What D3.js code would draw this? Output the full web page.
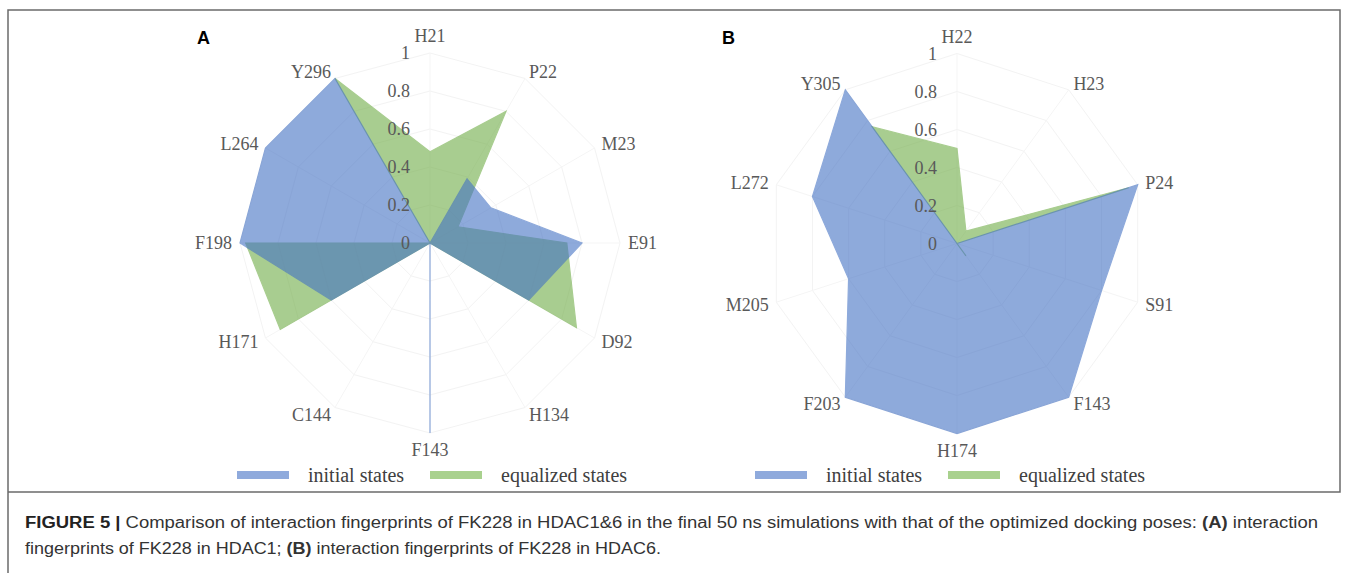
<!DOCTYPE html>
<html>
<head>
<meta charset="utf-8">
<script src="https://cdn.jsdelivr.net/npm/d3@7"></script>
<style>
  body { margin: 0; background: #fff; }
  svg { display: block; }
</style>
</head>
<body>
<div id="drawing_region"></div>
<script>
// panel A (HDAC1)
const axesA = ['H21', 'P22', 'M23', 'E91', 'D92', 'H134', 'F143', 'C144', 'H171', 'F198', 'L264', 'Y296'];
const initialA = [0, 0.39, 0.37, 0.8, 0.6, 0, 1, 0, 0.6, 1, 1, 1];
const equalizedA = [0.48, 0.8, 0.17, 0.72, 0.89, 0, 0, 0, 0.91, 0.97, 0, 1];

// panel B (HDAC6)
const axesB = ['H22', 'H23', 'P24', 'S91', 'F143', 'H174', 'F203', 'M205', 'L272', 'Y305'];
const initialB = [0, 0, 1, 0.8, 1, 1, 1, 0.6, 0.8, 1];
const equalizedB = [0.5, 0.08, 0.95, 0, 0.08, 0, 0, 0, 0, 0.76];

const ticks = [0, 0.2, 0.4, 0.6, 0.8, 1];
const tickLabels = ['0', '0.2', '0.4', '0.6', '0.8', '1'];
const seriesNames = ['initial states', 'equalized states'];

const svg = d3.select('#drawing_region').append('svg')
    .attr('width', 1348)
    .attr('height', 573);

class RadarChart {
    constructor(config, data) {
        this.config = {
            parent: config.parent,
            cx: config.cx,
            cy: config.cy,
            radius: config.radius || 190,
            letter: config.letter,
            letterX: config.letterX,
            legendX: config.legendX,
            legendY: config.legendY || 475,
        };
        this.data = data;
        this.init();
    }

    init() {
        let self = this;
        self.chart = self.config.parent.append('g')
            .attr('transform', `translate(${self.config.cx}, ${self.config.cy})`);

        self.rscale = d3.scaleLinear()
            .domain([0, 1])
            .range([0, self.config.radius]);

        const n = self.data.axes.length;
        self.angle = i => i * 2 * Math.PI / n;

        self.radial = d3.lineRadial()
            .angle((d, i) => self.angle(i))
            .radius(d => self.rscale(d))
            .curve(d3.curveLinearClosed);
    }

    render() {
        let self = this;
        const axes = self.data.axes;
        const R = self.config.radius;

        // grid rings and spokes (very faint, like the original)
        self.chart.selectAll('.ring')
            .data(ticks.slice(1))
            .enter()
            .append('path')
            .attr('d', t => self.radial(axes.map(() => t)))
            .attr('fill', 'none')
            .attr('stroke', '#f3f3f3')
            .attr('stroke-width', 1);

        self.chart.selectAll('.spoke')
            .data(axes)
            .enter()
            .append('line')
            .attr('x1', 0).attr('y1', 0)
            .attr('x2', (d, i) => R * Math.sin(self.angle(i)))
            .attr('y2', (d, i) => -R * Math.cos(self.angle(i)))
            .attr('stroke', '#f5f5f5')
            .attr('stroke-width', 1);

        // series: equalized underneath, initial on top
        const series = [
            { values: self.data.equalized, color: '#70AD47' },
            { values: self.data.initial, color: '#4472C4' },
        ];
        series.forEach(s => {
            self.chart.append('g')
                .attr('opacity', 0.6)
                .append('path')
                .attr('d', self.radial(s.values))
                .attr('fill', s.color)
                .attr('stroke', s.color)
                .attr('stroke-width', 1.2)
                .attr('stroke-linejoin', 'miter');
        });

        // tick labels
        self.chart.selectAll('.tick')
            .data(ticks)
            .enter()
            .append('text')
            .attr('x', -20)
            .attr('y', d => -self.rscale(d))
            .attr('dy', '0.35em')
            .attr('text-anchor', 'end')
            .style('font-family', '"Liberation Serif", serif')
            .style('font-size', '18px')
            .attr('fill', '#595959')
            .text((d, i) => tickLabels[i]);

        // axis labels
        self.chart.selectAll('.axislabel')
            .data(axes)
            .enter()
            .append('text')
            .each(function(d, i) {
                const a = self.angle(i);
                const s = Math.sin(a), c = Math.cos(a);
                let x = (R + 8) * s, y = -(R + 8) * c;
                let anchor = 'middle';
                if (s > 0.1) anchor = 'start';
                else if (s < -0.1) anchor = 'end';
                else y += -c * 9;
                d3.select(this)
                    .attr('x', x)
                    .attr('y', y)
                    .attr('dy', '0.35em')
                    .attr('text-anchor', anchor);
            })
            .style('font-family', '"Liberation Serif", serif')
            .style('font-size', '18px')
            .attr('fill', '#595959')
            .text(d => d);

        // panel letter
        self.config.parent.append('text')
            .attr('x', self.config.letterX)
            .attr('y', 44)
            .style('font-family', '"Liberation Sans", Arial, sans-serif')
            .style('font-size', '18px')
            .style('font-weight', 'bold')
            .attr('fill', '#000')
            .text(self.config.letter);

        // legend
        const legend = self.config.parent.append('g')
            .attr('transform', `translate(${self.config.legendX}, ${self.config.legendY})`);
        const swatch = ['#8FAADC', '#A9D18E'];
        const offsets = [0, 193];
        seriesNames.forEach((name, i) => {
            legend.append('rect')
                .attr('x', offsets[i])
                .attr('y', -4)
                .attr('width', 52)
                .attr('height', 8)
                .attr('fill', swatch[i]);
            legend.append('text')
                .attr('x', offsets[i] + 71)
                .attr('y', 0)
                .attr('dy', '0.35em')
                .style('font-family', '"Liberation Serif", serif')
                .style('font-size', '20px')
                .attr('fill', '#404040')
                .text(name);
        });
    }
}

const chartA = new RadarChart({
    parent: svg, cx: 430, cy: 243, radius: 190,
    letter: 'A', letterX: 197, legendX: 237,
}, { axes: axesA, initial: initialA, equalized: equalizedA });
chartA.render();

const chartB = new RadarChart({
    parent: svg, cx: 957, cy: 243.5, radius: 190,
    letter: 'B', letterX: 722, legendX: 755,
}, { axes: axesB, initial: initialB, equalized: equalizedB });
chartB.render();

// frame
svg.append('path')
    .attr('d', 'M8,573 V10 H1340 V492 H8')
    .attr('fill', 'none')
    .attr('stroke', '#6b6b6b')
    .attr('stroke-width', 1.5);

// caption
const caption = svg.append('g')
    .style('font-family', '"Liberation Sans", Arial, sans-serif')
    .style('font-size', '16px')
    .attr('fill', '#333');

const line1 = caption.append('text')
    .attr('x', 25).attr('y', 528)
    .attr('textLength', 1293)
    .attr('lengthAdjust', 'spacingAndGlyphs');
line1.append('tspan').style('font-weight', 'bold').attr('fill', '#222').text('FIGURE 5 |');
line1.append('tspan').text(' Comparison of interaction fingerprints of FK228 in HDAC1&6 in the final 50 ns simulations with that of the optimized docking poses: ');
line1.append('tspan').style('font-weight', 'bold').text('(A)');
line1.append('tspan').text(' interaction');

const line2 = caption.append('text')
    .attr('x', 25).attr('y', 554)
    .attr('textLength', 636)
    .attr('lengthAdjust', 'spacingAndGlyphs');
line2.append('tspan').text('fingerprints of FK228 in HDAC1; ');
line2.append('tspan').style('font-weight', 'bold').text('(B)');
line2.append('tspan').text(' interaction fingerprints of FK228 in HDAC6.');
</script>
</body>
</html>
